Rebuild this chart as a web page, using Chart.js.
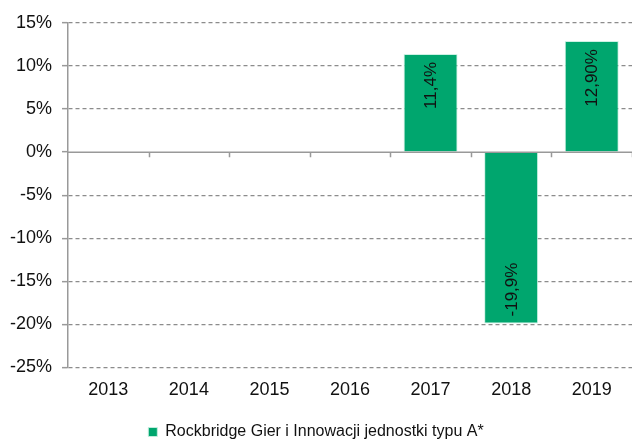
<!DOCTYPE html>
<html>
<head>
<meta charset="utf-8">
<script src="https://cdn.jsdelivr.net/npm/chart.js@4/dist/chart.umd.min.js"></script>
<style>
    html, body { margin: 0; padding: 0; background: #fff; }
    #wrap { width: 632px; height: 441px; }
</style>
</head>
<body>
<div id="wrap"><canvas id="chart"></canvas></div>
<script>
// Dane z wykresu
const years = ["2013", "2014", "2015", "2016", "2017", "2018", "2019"];
const returns = [null, null, null, null, 11.4, -19.9, 12.9];
const valueLabels = [null, null, null, null, "11,4%", "-19,9%", "12,90%"];
const yTicks = [-25, -20, -15, -10, -5, 0, 5, 10, 15];
const seriesName = "Rockbridge Gier i Innowacji jednostki typu A*";

const green = "#00a66e";
const gridGrey = "#8c8c8c";
const axisGrey = "#999999";
const fontFamily = "'Liberation Sans', Arial, sans-serif";

// Etykiety obrócone wewnątrz słupków
const barLabels = {
    id: "barLabels",
    afterDatasetsDraw(chart) {
        const ctx = chart.ctx;
        const meta = chart.getDatasetMeta(0);
        ctx.save();
        ctx.font = "17px " + fontFamily;
        ctx.fillStyle = "#111";
        ctx.textBaseline = "middle";
        meta.data.forEach((bar, i) => {
            const v = returns[i];
            if (v === null) return;
            ctx.save();
            ctx.translate(bar.x, v >= 0 ? bar.y + 8 : bar.y - 7);
            ctx.rotate(-Math.PI / 2);
            ctx.textAlign = v >= 0 ? "right" : "left";
            ctx.fillText(valueLabels[i], 0, 1);
            ctx.restore();
        });
        ctx.restore();
    }
};

// Znaczniki osi X na linii zera
const zeroTicks = {
    id: "zeroTicks",
    afterDatasetsDraw(chart) {
        const ctx = chart.ctx;
        const x = chart.scales.x;
        const y0 = chart.scales.y.getPixelForValue(0);
        const step = (x.right - x.left) / years.length;
        ctx.save();
        ctx.strokeStyle = axisGrey;
        ctx.lineWidth = 1.5;
        ctx.beginPath();
        ctx.moveTo(x.left, y0);
        ctx.lineTo(x.right, y0);
        for (let i = 1; i <= years.length; i++) {
            const px = Math.round(x.left + step * i) + 0.5;
            ctx.moveTo(px, y0);
            ctx.lineTo(px, y0 + 5);
        }
        ctx.stroke();
        ctx.restore();
    }
};

new Chart(document.getElementById("chart"), {
    type: "bar",
    data: {
        labels: years,
        datasets: [{
            label: seriesName,
            data: returns,
            backgroundColor: green,
            borderColor: "rgba(200,240,225,0.9)",
            borderWidth: 1,
            categoryPercentage: 1,
            barPercentage: 0.67
        }]
    },
    options: {
        responsive: true,
        maintainAspectRatio: false,
        animation: false,
        devicePixelRatio: 1,
        layout: { padding: { top: 23, right: 0, left: 0, bottom: -9 } },
        plugins: {
            tooltip: { enabled: false },
            legend: {
                position: "bottom",
                labels: {
                    boxWidth: 9,
                    boxHeight: 9,
                    padding: 11,
                    color: "#111",
                    font: { family: fontFamily, size: 16 }
                }
            }
        },
        scales: {
            x: {
                grid: { display: false, drawTicks: false },
                border: { display: false },
                ticks: {
                    color: "#111",
                    padding: 12,
                    font: { family: fontFamily, size: 18 }
                }
            },
            y: {
                min: -25,
                max: 15,
                afterBuildTicks: (scale) => {
                    scale.ticks = yTicks.map(v => ({ value: v }));
                },
                grid: {
                    color: (c) => c.tick && c.tick.value === 0 ? "rgba(0,0,0,0)" : gridGrey,
                    lineWidth: 1.3,
                    tickColor: axisGrey,
                    tickLength: 6,
                    tickWidth: 1.5
                },
                border: {
                    color: axisGrey,
                    width: 1.5,
                    dash: (c) => c.type === "tick" ? [4, 3] : []
                },
                ticks: {
                    color: "#111",
                    padding: 10,
                    font: { family: fontFamily, size: 18 },
                    callback: (v) => v + "%"
                }
            }
        }
    },
    plugins: [barLabels, zeroTicks]
});
</script>
</body>
</html>
